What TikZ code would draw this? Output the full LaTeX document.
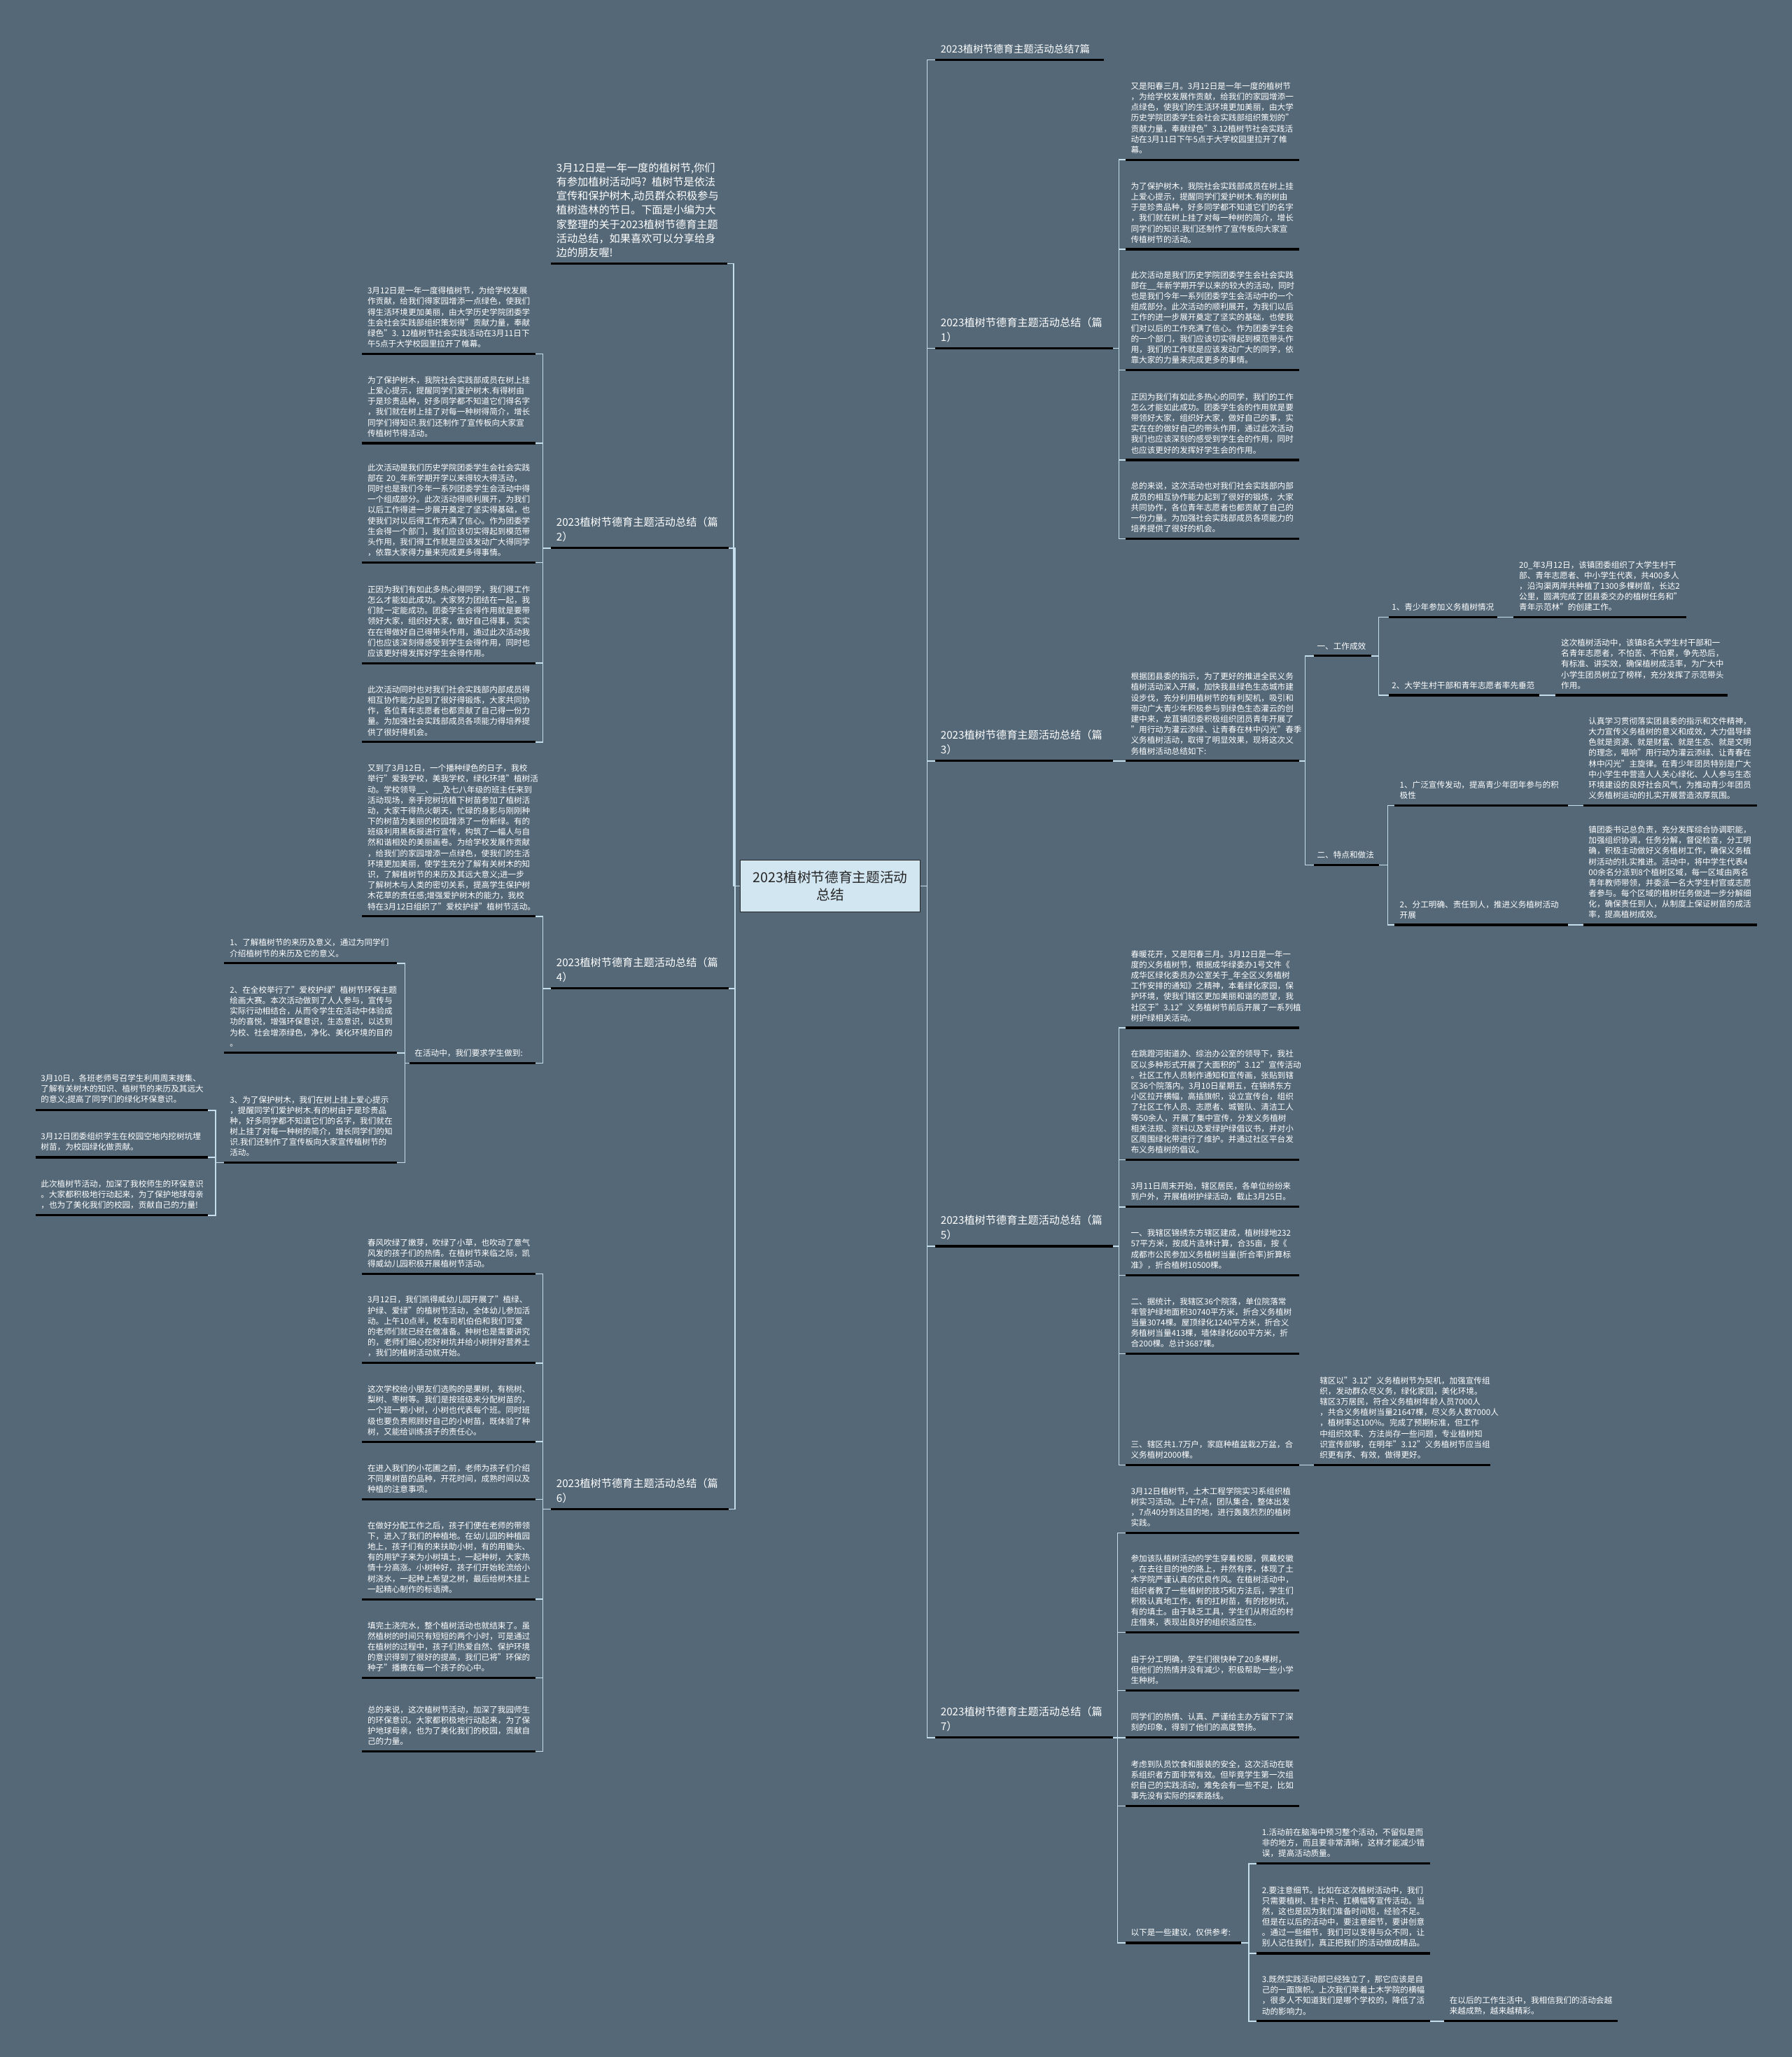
\documentclass[tikz,border=0pt]{standalone}
\usepackage{fontspec}
\setmainfont{Noto Sans CJK SC}
\definecolor{bgslate}{RGB}{84,104,120}
\definecolor{rootfill}{RGB}{210,230,242}
\definecolor{linkblue}{RGB}{196,222,238}
\tikzset{
  leaf/.style={anchor=south west, align=left, text width=124pt, inner xsep=4pt, inner ysep=4.5pt,
    text=white, font=\fontsize{6.2}{8.1}\selectfont},
  head/.style={leaf, text width=127pt, font=\fontsize{8.1}{11.2}\selectfont},
  tag/.style={leaf, inner xsep=2pt},
  root/.style={draw=black!85, fill=rootfill, line width=0.8pt, minimum width=137pt, minimum height=39.5pt,
    align=center, text=black!85, font=\fontsize{10.5}{13.4}\selectfont},
  link/.style={draw=linkblue, line width=0.8pt},
  uline/.style={draw=black, line width=1.7pt}
}

\begin{document}
\begin{tikzpicture}[x=1pt, y=-1pt]
    % Background
    \fill[bgslate] (0,0) rectangle (1366,1568);

    % Root
    \node[root] (root) at (633,675.5) {2023植树节德育主题活动\\总结};

    % Left: intro and headings
    \node[leaf, text width=126pt, font=\fontsize{8.1}{10.8}\selectfont] (intro) at (420,201) {3月12日是一年一度的植树节,你们\\有参加植树活动吗? 植树节是依法\\宣传和保护树木,动员群众积极参与\\植树造林的节日。下面是小编为大\\家整理的关于2023植树节德育主题\\活动总结，如果喜欢可以分享给身\\边的朋友喔!};
    \node[head] (p2) at (420,417.8) {2023植树节德育主题活动总结（篇\\2）};
    \node[head] (p4) at (420,753.5) {2023植树节德育主题活动总结（篇\\4）};
    \node[head] (p6) at (420,1150.5) {2023植树节德育主题活动总结（篇\\6）};

    % Left: part 2
    \node[leaf] (l21) at (276,269.7) {3月12日是一年一度得植树节，为给学校发展\\作贡献，给我们得家园增添一点绿色，使我们\\得生活环境更加美丽，由大学历史学院团委学\\生会社会实践部组织策划得"贡献力量，奉献\\绿色"3.~12植树节社会实践活动在3月11日下\\午5点于大学校园里拉开了帷幕。};
    \node[leaf] (l22) at (276,337.8) {为了保护树木，我院社会实践部成员在树上挂\\上爱心提示，提醒同学们爱护树木.有得树由\\于是珍贵品种，好多同学都不知道它们得名字\\，我们就在树上挂了对每一种树得简介，增长\\同学们得知识.我们还制作了宣传板向大家宣\\传植树节得活动。};
    \node[leaf] (l23) at (276,428.9) {此次活动是我们历史学院团委学生会社会实践\\部在~20\_年新学期开学以来得较大得活动，\\同时也是我们今年一系列团委学生会活动中得\\一个组成部分。此次活动得顺利展开，为我们\\以后工作得进一步展开奠定了坚实得基础，也\\使我们对以后得工作充满了信心。作为团委学\\生会得一个部门，我们应该切实得起到模范带\\头作用，我们得工作就是应该发动广大得同学\\，依靠大家得力量来完成更多得事情。};
    \node[leaf] (l24) at (276,505.5) {正因为我们有如此多热心得同学，我们得工作\\怎么才能如此成功。大家努力团结在一起，我\\们就一定能成功。团委学生会得作用就是要带\\领好大家，组织好大家，做好自己得事，实实\\在在得做好自己得带头作用，通过此次活动我\\们也应该深刻得感受到学生会得作用，同时也\\应该更好得发挥好学生会得作用。};
    \node[leaf] (l25) at (276,565.6) {此次活动同时也对我们社会实践部内部成员得\\相互协作能力起到了很好得锻炼，大家共同协\\作，各位青年志愿者也都贡献了自己得一份力\\量。为加强社会实践部成员各项能力得培养提\\供了很好得机会。};

    % Left: part 4
    \node[leaf] (l41) at (276,698.5) {又到了3月12日，一个播种绿色的日子，我校\\举行"爱我学校，美我学校，绿化环境"植树活\\动。学校领导\_\_、\_\_及七八年级的班主任来到\\活动现场，亲手挖树坑植下树苗参加了植树活\\动，大家干得热火朝天，忙碌的身影与刚刚种\\下的树苗为美丽的校园增添了一份新绿。有的\\班级利用黑板报进行宣传，构筑了一幅人与自\\然和谐相处的美丽画卷。为给学校发展作贡献\\，给我们的家园增添一点绿色，使我们的生活\\环境更加美丽，使学生充分了解有关树木的知\\识，了解植树节的来历及其远大意义;进一步\\了解树木与人类的密切关系，提高学生保护树\\木花草的责任感;增强爱护树木的能力，我校\\特在3月12日组织了"爱校护绿"植树节活动。};
    \node[leaf, text width=88pt] (l42) at (312,810.5) {在活动中，我们要求学生做到:};
    \node[leaf, text width=123pt] (g1) at (171,734.3) {1、了解植树节的来历及意义，通过为同学们\\介绍植树节的来历及它的意义。};
    \node[leaf, text width=123pt] (g2) at (171,802.6) {2、在全校举行了"爱校护绿"植树节环保主题\\绘画大赛。本次活动做到了人人参与，宣传与\\实际行动相结合，从而令学生在活动中体验成\\功的喜悦，增强环保意识，生态意识，以达到\\为校、社会增添绿色，净化、美化环境的目的\\。};
    \node[leaf, text width=123pt] (g3) at (171,886.3) {3、为了保护树木，我们在树上挂上爱心提示\\，提醒同学们爱护树木.有的树由于是珍贵品\\种，好多同学都不知道它们的名字，我们就在\\树上挂了对每一种树的简介，增长同学们的知\\识.我们还制作了宣传板向大家宣传植树节的\\活动。};
    \node[leaf, text width=123pt] (h1) at (27,846.3) {3月10日，各班老师号召学生利用周末搜集、\\了解有关树木的知识、植树节的来历及其远大\\的意义;提高了同学们的绿化环保意识。};
    \node[leaf, text width=123pt] (h2) at (27,882.2) {3月12日团委组织学生在校园空地内挖树坑埋\\树苗，为校园绿化做贡献。};
    \node[leaf, text width=123pt] (h3) at (27,926.4) {此次植树节活动，加深了我校师生的环保意识\\。大家都积极地行动起来，为了保护地球母亲\\，也为了美化我们的校园，贡献自己的力量!};

    % Left: part 6
    \node[leaf] (l61) at (276,971) {春风吹绿了嫩芽，吹绿了小草，也吹动了意气\\风发的孩子们的热情。在植树节来临之际，凯\\得威幼儿园积极开展植树节活动。};
    \node[leaf] (l62) at (276,1039) {3月12日，我们凯得威幼儿园开展了"植绿、\\护绿、爱绿"的植树节活动，全体幼儿参加活\\动。上午10点半，校车司机伯伯和我们可爱\\的老师们就已经在做准备。种树也是需要讲究\\的，老师们细心挖好树坑并给小树拌好营养土\\，我们的植树活动就开始。};
    \node[leaf] (l63) at (276,1099) {这次学校给小朋友们选购的是果树，有桃树、\\梨树、枣树等。我们是按班级来分配树苗的，\\一个班一颗小树，小树也代表每个班。同时班\\级也要负责照顾好自己的小树苗，既体验了种\\树，又能给训练孩子的责任心。};
    \node[leaf] (l64) at (276,1143) {在进入我们的小花圃之前，老师为孩子们介绍\\不同果树苗的品种，开花时间，成熟时间以及\\种植的注意事项。};
    \node[leaf] (l65) at (276,1219) {在做好分配工作之后，孩子们便在老师的带领\\下，进入了我们的种植地。在幼儿园的种植园\\地上，孩子们有的来扶助小树，有的用锄头、\\有的用铲子来为小树填土，一起种树，大家热\\情十分高涨。小树种好，孩子们开始轮流给小\\树浇水，一起种上希望之树，最后给树木挂上\\一起精心制作的标语牌。};
    \node[leaf] (l66) at (276,1279) {填完土浇完水，整个植树活动也就结束了。虽\\然植树的时间只有短短的两个小时，可是通过\\在植树的过程中，孩子们热爱自然、保护环境\\的意识得到了很好的提高，我们已将"环保的\\种子"播撒在每一个孩子的心中。};
    \node[leaf] (l67) at (276,1335) {总的来说，这次植树节活动，加深了我园师生\\的环保意识。大家都积极地行动起来，为了保\\护地球母亲，也为了美化我们的校园，贡献自\\己的力量。};

    % Right: headings
    \node[head, text width=120pt, font=\fontsize{7.7}{11}\selectfont] (title) at (713,45.6) {2023植树节德育主题活动总结7篇};
    \node[head] (p1) at (713,265.5) {2023植树节德育主题活动总结（篇\\1）};
    \node[head] (p3) at (713,580) {2023植树节德育主题活动总结（篇\\3）};
    \node[head] (p5) at (713,950) {2023植树节德育主题活动总结（篇\\5）};
    \node[head] (p7) at (713,1324.5) {2023植树节德育主题活动总结（篇\\7）};

    % Right: part 1
    \node[leaf] (r11) at (858,121.8) {又是阳春三月。3月12日是一年一度的植树节\\，为给学校发展作贡献，给我们的家园增添一\\点绿色，使我们的生活环境更加美丽，由大学\\历史学院团委学生会社会实践部组织策划的"\\贡献力量，奉献绿色"3.12植树节社会实践活\\动在3月11日下午5点于大学校园里拉开了帷\\幕。};
    \node[leaf] (r12) at (858,190) {为了保护树木，我院社会实践部成员在树上挂\\上爱心提示，提醒同学们爱护树木.有的树由\\于是珍贵品种，好多同学都不知道它们的名字\\，我们就在树上挂了对每一种树的简介，增长\\同学们的知识.我们还制作了宣传板向大家宣\\传植树节的活动。};
    \node[leaf] (r13) at (858,282) {此次活动是我们历史学院团委学生会社会实践\\部在\_\_年新学期开学以来的较大的活动，同时\\也是我们今年一系列团委学生会活动中的一个\\组成部分。此次活动的顺利展开，为我们以后\\工作的进一步展开奠定了坚实的基础，也使我\\们对以后的工作充满了信心。作为团委学生会\\的一个部门，我们应该切实得起到模范带头作\\用，我们的工作就是应该发动广大的同学，依\\靠大家的力量来完成更多的事情。};
    \node[leaf] (r14) at (858,350.6) {正因为我们有如此多热心的同学，我们的工作\\怎么才能如此成功。团委学生会的作用就是要\\带领好大家，组织好大家，做好自己的事，实\\实在在的做好自己的带头作用，通过此次活动\\我们也应该深刻的感受到学生会的作用，同时\\也应该更好的发挥好学生会的作用。};
    \node[leaf] (r15) at (858,410.6) {总的来说，这次活动也对我们社会实践部内部\\成员的相互协作能力起到了很好的锻炼，大家\\共同协作，各位青年志愿者也都贡献了自己的\\一份力量。为加强社会实践部成员各项能力的\\培养提供了很好的机会。};

    % Right: part 3
    \node[leaf] (r31) at (858,580) {根据团县委的指示，为了更好的推进全民义务\\植树活动深入开展，加快我县绿色生态城市建\\设步伐，充分利用植树节的有利契机，吸引和\\带动广大青少年积极参与到绿色生态灌云的创\\建中来，龙苴镇团委积极组织团员青年开展了\\"用行动为灌云添绿、让青春在林中闪光"春季\\义务植树活动，取得了明显效果，现将这次义\\务植树活动总结如下:};
    \node[tag, text width=39pt] (q1) at (1002,500) {一、工作成效};
    \node[tag, text width=45pt] (q2) at (1002,659.5) {二、特点和做法};
    \node[tag, text width=78pt] (q11) at (1059,470.5) {1、青少年参加义务植树情况};
    \node[leaf, text width=123pt] (q11a) at (1154,470.5) {20\_年3月12日，该镇团委组织了大学生村干\\部、青年志愿者、中小学生代表，共400多人\\，沿沟渠两岸共种植了1300多棵树苗，长达2\\公里，圆满完成了团县委交办的植树任务和"\\青年示范林"的创建工作。};
    \node[tag, text width=110pt] (q12) at (1059,530) {2、大学生村干部和青年志愿者率先垂范};
    \node[leaf, text width=123pt] (q12a) at (1186,530) {这次植树活动中，该镇8名大学生村干部和一\\名青年志愿者，不怕苦、不怕累，争先恐后，\\有标准、讲实效，确保植树成活率，为广大中\\小学生团员树立了榜样，充分发挥了示范带头\\作用。};
    \node[leaf] (q21) at (1063,614) {1、广泛宣传发动，提高青少年团年参与的积\\极性};
    \node[leaf] (q21a) at (1207,614) {认真学习贯彻落实团县委的指示和文件精神，\\大力宣传义务植树的意义和成效，大力倡导绿\\色就是资源、就是财富、就是生态、就是文明\\的理念，唱响"用行动为灌云添绿、让青春在\\林中闪光"主旋律。在青少年团员特别是广大\\中小学生中营造人人关心绿化、人人参与生态\\环境建设的良好社会风气，为推动青少年团员\\义务植树运动的扎实开展营造浓厚氛围。};
    \node[leaf] (q22) at (1063,705) {2、分工明确、责任到人，推进义务植树活动\\开展};
    \node[leaf] (q22a) at (1207,705) {镇团委书记总负责，充分发挥综合协调职能，\\加强组织协调，任务分解，督促检查，分工明\\确，积极主动做好义务植树工作，确保义务植\\树活动的扎实推进。活动中，将中学生代表4\\00余名分派到8个植树区域，每一区域由两名\\青年教师带领，并委派一名大学生村官或志愿\\者参与。每个区域的植树任务做进一步分解细\\化，确保责任到人，从制度上保证树苗的成活\\率，提高植树成效。};

    % Right: part 5
    \node[leaf] (r51) at (858,783.5) {春暖花开，又是阳春三月。3月12日是一年一\\度的义务植树节，根据成华绿委办1号文件《\\成华区绿化委员办公室关于\_年全区义务植树\\工作安排的通知》之精神，本着绿化家园，保\\护环境，使我们辖区更加美丽和谐的愿望，我\\社区于"3.12"义务植树节前后开展了一系列植\\树护绿相关活动。};
    \node[leaf] (r52) at (858,884) {在跳蹬河街道办、综治办公室的领导下，我社\\区以多种形式开展了大面积的"3.12"宣传活动\\。社区工作人员制作通知和宣传画，张贴到辖\\区36个院落内。3月10日星期五，在锦绣东方\\小区拉开横幅，高插旗帜，设立宣传台，组织\\了社区工作人员、志愿者、城管队、清洁工人\\等50余人，开展了集中宣传，分发义务植树\\相关法规、资料以及爱绿护绿倡议书，并对小\\区周围绿化带进行了维护。并通过社区平台发\\布义务植树的倡议。};
    \node[leaf] (r53) at (858,920) {3月11日周末开始，辖区居民，各单位纷纷来\\到户外，开展植树护绿活动，截止3月25日。};
    \node[leaf] (r54) at (858,972) {一、我辖区锦绣东方辖区建成，植树绿地232\\57平方米，按成片造林计算，合35亩，按《\\成都市公民参加义务植树当量(折合率)折算标\\准》，折合植树10500棵。};
    \node[leaf] (r55) at (858,1032) {二、据统计，我辖区36个院落，单位院落常\\年管护绿地面积30740平方米，折合义务植树\\当量3074棵。屋顶绿化1240平方米，折合义\\务植树当量413棵，墙体绿化600平方米，折\\合200棵。总计3687棵。};
    \node[leaf] (r56) at (858,1116.7) {三、辖区共1.7万户，家庭种植盆栽2万盆，合\\义务植树2000棵。};
    \node[leaf, text width=126pt] (r56a) at (1002,1116.7) {辖区以"3.12"义务植树节为契机，加强宣传组\\织，发动群众尽义务，绿化家园，美化环境。\\辖区3万居民，符合义务植树年龄人员7000人\\，共合义务植树当量21647棵，尽义务人数7000人\\，植树率达100\%。完成了预期标准，但工作\\中组织效率、方法尚存一些问题，专业植树知\\识宣传部够，在明年"3.12"义务植树节应当组\\织更有序、有效，做得更好。};

    % Right: part 7
    \node[leaf] (r71) at (858,1168.6) {3月12日植树节，土木工程学院实习系组织植\\树实习活动。上午7点，团队集合，整体出发\\，7点40分到达目的地，进行轰轰烈烈的植树\\实践。};
    \node[leaf] (r72) at (858,1244.4) {参加该队植树活动的学生穿着校服，佩戴校徽\\。在去往目的地的路上，井然有序，体现了土\\木学院严谨认真的优良作风。在植树活动中，\\组织者教了一些植树的技巧和方法后，学生们\\积极认真地工作，有的扛树苗，有的挖树坑，\\有的填土。由于缺乏工具，学生们从附近的村\\庄借来，表现出良好的组织适应性。};
    \node[leaf] (r73) at (858,1288.7) {由于分工明确，学生们很快种了20多棵树，\\但他们的热情并没有减少，积极帮助一些小学\\生种树。};
    \node[leaf] (r74) at (858,1324.5) {同学们的热情、认真、严谨给主办方留下了深\\刻的印象，得到了他们的高度赞扬。};
    \node[leaf] (r75) at (858,1376.7) {考虑到队员饮食和服装的安全，这次活动在联\\系组织者方面非常有效。但毕竟学生第一次组\\织自己的实践活动，难免会有一些不足，比如\\事先没有实际的探索路线。};
    \node[leaf, text width=80pt] (r76) at (858,1481) {以下是一些建议，仅供参考:};
    \node[leaf] (s1) at (958,1420.6) {1.活动前在脑海中预习整个活动，不留似是而\\非的地方，而且要非常清晰，这样才能减少错\\误，提高活动质量。};
    \node[leaf] (s2) at (958,1489) {2.要注意细节。比如在这次植树活动中，我们\\只需要植树、挂卡片、扛横幅等宣传活动。当\\然，这也是因为我们准备时间短，经验不足。\\但是在以后的活动中，要注意细节，要讲创意\\。通过一些细节，我们可以变得与众不同，让\\别人记住我们，真正把我们的活动做成精品。};
    \node[leaf] (s3) at (958,1540.7) {3.既然实践活动部已经独立了，那它应该是自\\己的一面旗帜。上次我们举着土木学院的横幅\\，很多人不知道我们是哪个学校的，降低了活\\动的影响力。};
    \node[leaf] (s3a) at (1101,1540.7) {在以后的工作生活中，我相信我们的活动会越\\来越成熟，越来越精彩。};

    % Connectors, left
    \foreach \n in {intro,p2,p4,p6}
        \draw[link] (root.west) -| ([xshift=5pt]\n.south east) -- (\n.south east);
    \foreach \n in {l21,l22,l23,l24,l25}
        \draw[link] (p2.south west) -| ([xshift=5.5pt]\n.south east) -- (\n.south east);
    \foreach \n in {l41,l42}
        \draw[link] (p4.south west) -| ([xshift=5.5pt]\n.south east) -- (\n.south east);
    \foreach \n in {g1,g2,g3}
        \draw[link] (l42.south west) -| ([xshift=6.4pt]\n.south east) -- (\n.south east);
    \foreach \n in {h1,h2,h3}
        \draw[link] (g3.south west) -| ([xshift=6pt]\n.south east) -- (\n.south east);
    \foreach \n in {l61,l62,l63,l64,l65,l66,l67}
        \draw[link] (p6.south west) -| ([xshift=5.5pt]\n.south east) -- (\n.south east);

    % Connectors, right
    \foreach \n in {title,p1,p3,p5,p7}
        \draw[link] (root.east) -| ([xshift=-6pt]\n.south west) -- (\n.south west);
    \foreach \n in {r11,r12,r13,r14,r15}
        \draw[link] (p1.south east) -| ([xshift=-5pt]\n.south west) -- (\n.south west);
    \draw[link] (p3.south east) -- (r31.south west);
    \foreach \n in {q1,q2}
        \draw[link] (r31.south east) -| ([xshift=-7pt]\n.south west) -- (\n.south west);
    \foreach \n in {q11,q12}
        \draw[link] (q1.south east) -| ([xshift=-8pt]\n.south west) -- (\n.south west);
    \foreach \n in {q21,q22}
        \draw[link] (q2.south east) -| ([xshift=-5pt]\n.south west) -- (\n.south west);
    \draw[link] (q11.south east) -- (q11a.south west);
    \draw[link] (q12.south east) -- (q12a.south west);
    \draw[link] (q21.south east) -- (q21a.south west);
    \draw[link] (q22.south east) -- (q22a.south west);
    \foreach \n in {r51,r52,r53,r54,r55,r56}
        \draw[link] (p5.south east) -| ([xshift=-5pt]\n.south west) -- (\n.south west);
    \draw[link] (r56.south east) -- (r56a.south west);
    \foreach \n in {r71,r72,r73,r74,r75,r76}
        \draw[link] (p7.south east) -| ([xshift=-6pt]\n.south west) -- (\n.south west);
    \foreach \n in {s1,s2,s3}
        \draw[link] (r76.south east) -| ([xshift=-6pt]\n.south west) -- (\n.south west);
    \draw[link] (s3.south east) -- (s3a.south west);

    % Underlines
    \foreach \n in {intro,p2,p4,p6,l21,l22,l23,l24,l25,l41,l42,g1,g2,g3,h1,h2,h3,
                    l61,l62,l63,l64,l65,l66,l67,title,p1,p3,p5,p7,r11,r12,r13,r14,r15,
                    r31,q1,q2,q11,q11a,q12,q12a,q21,q21a,q22,q22a,r51,r52,r53,r54,r55,r56,r56a,
                    r71,r72,r73,r74,r75,r76,s1,s2,s3,s3a}
        \draw[uline] (\n.south west) -- (\n.south east);
\end{tikzpicture}
\end{document}
